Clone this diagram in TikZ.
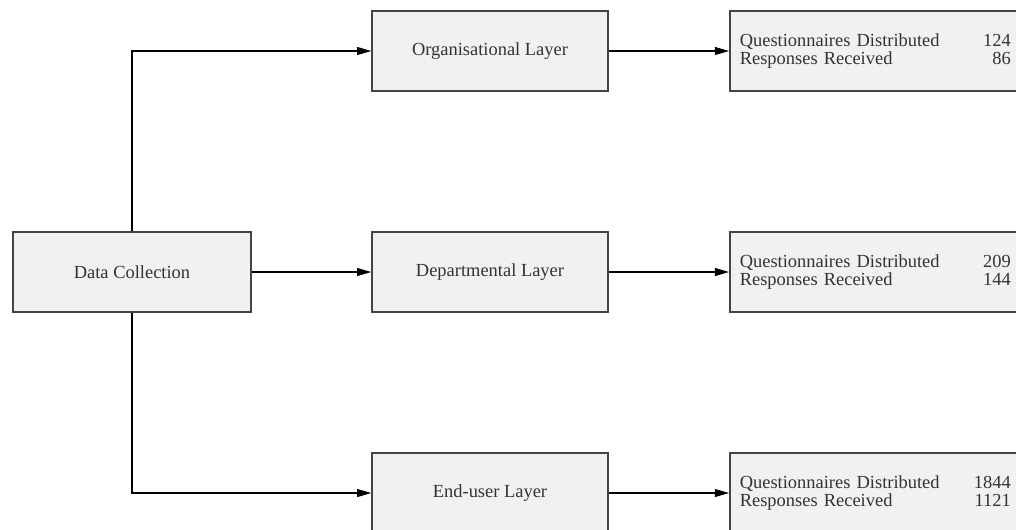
\documentclass[tikz,border=0pt]{standalone}
\usepackage{fontspec}
\setmainfont{Liberation Serif}
\usepackage{tikz}
\usetikzlibrary{arrows.meta}

\definecolor{boxfill}{HTML}{F1F1F1}
\definecolor{boxline}{HTML}{444444}
\definecolor{textgray}{HTML}{333333}

\tikzset{
	layerbox/.style={draw=boxline, fill=boxfill, line width=0.9pt, minimum width=4.72cm, minimum height=1.6cm,
		text=textgray, font=\fontsize{10.5}{10.5}\selectfont},
	resultbox/.style={layerbox, anchor=west, minimum width=5.82cm, text width=5.42cm, inner xsep=0.16cm, align=left},
	flow/.style={line width=0.6pt, -{Triangle[length=8pt,width=4.5pt]}}
}

\begin{document}
\begin{tikzpicture}
	\clip (0,0) rectangle (20.32,-10.58);
	
	%boxes
	\node[layerbox, minimum width=4.76cm] (collect) at (2.64,-5.44) {Data Collection};
	\node[layerbox] (orglayer) at (9.8,-1.02) {Organisational Layer};
	\node[layerbox] (deplayer) at (9.8,-5.44) {Departmental Layer};
	\node[layerbox] (enduser) at (9.8,-9.86) {End-user Layer};
	
	%results
	\node[resultbox] (orgres) at (14.58,-1.02) {Questionnaires Distributed\hfill 124\\Responses Received\hfill 86};
	\node[resultbox] (depres) at (14.58,-5.44) {Questionnaires Distributed\hfill 209\\Responses Received\hfill 144};
	\node[resultbox] (endres) at (14.58,-9.86) {Questionnaires Distributed\hfill 1844\\Responses Received\hfill 1121};
	
	%arrows
	\draw[flow] (collect.north) |- (orglayer.west);
	\draw[flow] (collect.east) -- (deplayer.west);
	\draw[flow] (collect.south) |- (enduser.west);
	\draw[flow] (orglayer.east) -- (orgres.west);
	\draw[flow] (deplayer.east) -- (depres.west);
	\draw[flow] (enduser.east) -- (endres.west);
\end{tikzpicture}
\end{document}
